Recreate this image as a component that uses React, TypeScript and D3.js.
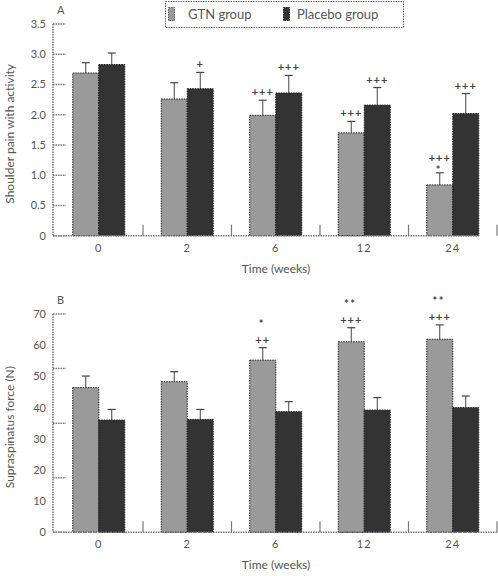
import React from "react";
import * as d3 from "d3";

const categories = ["0", "2", "6", "12", "24"];
const groups = ["GTN group", "Placebo group"];

// Panel A: shoulder pain with activity
const painGTN = [2.69, 2.26, 1.99, 1.70, 0.84];
const painGTNErr = [0.17, 0.27, 0.25, 0.19, 0.20];
const painPlacebo = [2.83, 2.43, 2.36, 2.16, 2.02];
const painPlaceboErr = [0.19, 0.27, 0.29, 0.29, 0.33];
const painGTNMarks = ["", "", "+++", "+++", "+++"];
const painGTNStar = ["", "", "", "", "*"];
const painPlaceboMarks = ["", "+", "+++", "+++", "+++"];
const painTicks = [0, 0.5, 1.0, 1.5, 2.0, 2.5, 3.0, 3.5];

// Panel B: supraspinatus force (N)
const forceGTN = [46.4, 48.3, 55.2, 61.1, 61.9];
const forceGTNErr = [3.7, 3.2, 4.0, 4.5, 4.6];
const forcePlacebo = [36.0, 36.2, 38.7, 39.2, 40.0];
const forcePlaceboErr = [3.4, 3.2, 3.2, 4.0, 3.7];
const forceGTNMarks = ["", "", "++", "+++", "+++"];
const forceGTNStars = ["", "", "*", "**", "**"];
const forceLabels = [0, 10, 20, 30, 40, 50, 60, 70];
const forceTickMarks = [0, 17.5, 35, 52.5, 70];

const FONT = "Lato, 'DejaVu Sans', sans-serif";
const TXT = "#555";
const AXIS = "#777";
const GTN_COL = "#9a9a9a";
const PLA_COL = "#333333";

const x = d3.scaleBand<string>().domain(categories).range([54.5, 497]).padding(0);
const xi = d3.scaleBand<string>().domain(groups).range([-26, 26]).padding(0);

function Panel(props: {
  y: d3.ScaleLinear<number, number>;
  gtn: number[];
  gtnErr: number[];
  pla: number[];
  plaErr: number[];
  gtnMarks: string[];
  gtnStars: string[];
  plaMarks: string[];
  tickLabels: number[];
  tickMarks: number[];
  fmt: (v: number) => string;
  letter: string;
  title: string;
  baselineEnd: number;
  starsAbove: boolean;
}) {
  const { y, gtn, gtnErr, pla, plaErr } = props;
  const y0 = y(0);
  const [, ymax] = y.range();
  const series = [
    { name: groups[0], vals: gtn, errs: gtnErr, col: GTN_COL, marks: props.gtnMarks, stars: props.gtnStars },
    { name: groups[1], vals: pla, errs: plaErr, col: PLA_COL, marks: props.plaMarks, stars: categories.map(() => "") },
  ];
  const axisX = 53;
  return (
    <g>
      {series.map((s) =>
        categories.map((c, i) => {
          const cx = (x(c) as number) + x.bandwidth() / 2;
          const bx = cx + (xi(s.name) as number);
          const bw = xi.bandwidth();
          const top = y(s.vals[i]);
          const errTop = y(s.vals[i] + s.errs[i]);
          const mid = bx + bw / 2;
          const hasStar = !!s.stars[i];
          const starBelow = hasStar && !props.starsAbove;
          const markY = starBelow ? errTop - 11 : errTop - 4;
          const starY = props.starsAbove ? errTop - 20 : errTop + 1;
          return (
            <g key={s.name + c}>
              <line x1={mid} x2={mid} y1={top} y2={errTop} stroke="#444" strokeWidth={1} />
              <line x1={mid - 4} x2={mid + 4} y1={errTop} y2={errTop} stroke="#444" strokeWidth={1.2} />
              <rect x={bx} y={top} width={bw} height={y0 - top} fill={s.col}
                stroke="#222" strokeWidth={1} strokeDasharray="1.5,1" />
              {s.marks[i] && (
                <text x={mid} y={markY} textAnchor="middle" fontFamily={FONT} fontSize={11}
                  fontWeight="bold" fill="#444" letterSpacing={1}>{s.marks[i]}</text>
              )}
              {hasStar && (
                <text x={mid - 1} y={starY} textAnchor="middle"
                  fontFamily={FONT} fontSize={11} fontWeight="bold" fill="#444" letterSpacing={1.5}>{s.stars[i]}</text>
              )}
            </g>
          );
        })
      )}
      <line x1={axisX} x2={axisX} y1={ymax} y2={y0} stroke={AXIS} strokeWidth={1.5} strokeDasharray="1.5,1" />
      {props.tickMarks.map((t) => (
        <line key={"tm" + t} x1={axisX} x2={axisX + 13} y1={y(t)} y2={y(t)} stroke={AXIS}
          strokeWidth={1.5} strokeDasharray="1.5,1" />
      ))}
      {props.tickLabels.map((t) => (
        <text key={"tl" + t} x={46} y={y(t) + 4} textAnchor="end" fontFamily={FONT} fontSize={11} fill={TXT}>
          {props.fmt(t)}
        </text>
      ))}
      <line x1={axisX} x2={props.baselineEnd} y1={y0} y2={y0} stroke={AXIS} strokeWidth={1.5} strokeDasharray="1.5,1" />
      {categories.map((c) => {
        const right = (x(c) as number) + x.bandwidth();
        return (
          <line key={"sep" + c} x1={right} x2={right} y1={y0} y2={y0 - 11} stroke={AXIS} strokeWidth={1.2} />
        );
      })}
      {categories.map((c) => (
        <text key={"xl" + c} x={(x(c) as number) + x.bandwidth() / 2} y={y0 + 16} textAnchor="middle"
          fontFamily={FONT} fontSize={11} fill={TXT} letterSpacing={1}>{c}</text>
      ))}
      <text x={276} y={y0 + 37} textAnchor="middle" fontFamily={FONT} fontSize={12} fill={TXT}>Time (weeks)</text>
      <text x={axisX + 4} y={ymax - 10} fontFamily={FONT} fontSize={11} fill={TXT}>{props.letter}</text>
      <text transform={`translate(14,${(ymax + y0) / 2 + 4}) rotate(-90)`} textAnchor="middle"
        fontFamily={FONT} fontSize={12} fill={TXT}>{props.title}</text>
    </g>
  );
}

export default function App() {
  const yA = d3.scaleLinear().domain([0, 3.5]).range([235.7, 24]);
  const yB = d3.scaleLinear().domain([0, 70]).range([532.3, 314]);
  return (
    <svg width={498} height={576} style={{ position: "absolute", left: 0, top: 0, background: "#fff" }}>
      <rect width={498} height={576} fill="#fff" />
      <Panel y={yA} gtn={painGTN} gtnErr={painGTNErr} pla={painPlacebo} plaErr={painPlaceboErr}
        gtnMarks={painGTNMarks} gtnStars={painGTNStar} plaMarks={painPlaceboMarks}
        tickLabels={painTicks} tickMarks={painTicks}
        fmt={(v) => (v === 0 ? "0" : d3.format(".1f")(v))} letter="A"
        title="Shoulder pain with activity" baselineEnd={479} starsAbove={false} />
      <Panel y={yB} gtn={forceGTN} gtnErr={forceGTNErr} pla={forcePlacebo} plaErr={forcePlaceboErr}
        gtnMarks={forceGTNMarks} gtnStars={forceGTNStars} plaMarks={categories.map(() => "")}
        tickLabels={forceLabels} tickMarks={forceTickMarks}
        fmt={(v) => String(v)} letter="B"
        title="Supraspinatus force (N)" baselineEnd={497} starsAbove={true} />
      <g>
        <rect x={165.5} y={1.5} width={238} height={26} fill="#fff" stroke="#666" strokeWidth={1}
          strokeDasharray="1.5,1" />
        <rect x={168.5} y={7.5} width={6} height={13} fill={GTN_COL} stroke="#555" strokeDasharray="1.5,1" />
        <text x={188} y={19} fontFamily={FONT} fontSize={13} fill={TXT}>{groups[0]}</text>
        <rect x={283.5} y={7.5} width={6} height={13} fill={PLA_COL} stroke="#111" strokeDasharray="1.5,1" />
        <text x={297} y={19} fontFamily={FONT} fontSize={13} fill={TXT}>{groups[1]}</text>
      </g>
    </svg>
  );
}
